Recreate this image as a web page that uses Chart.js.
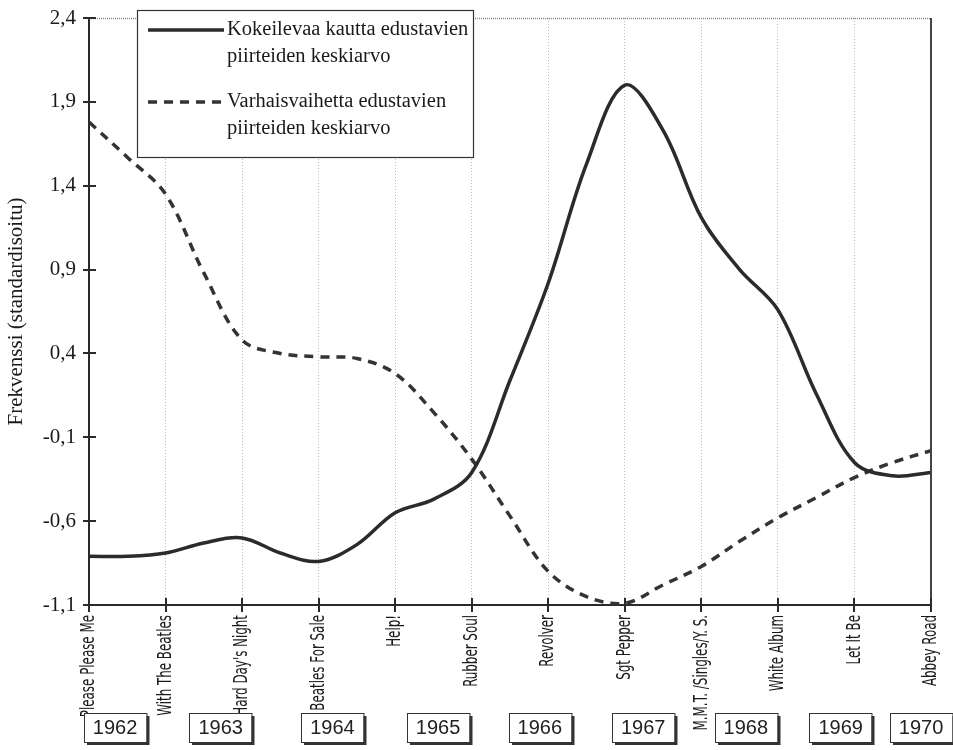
<!DOCTYPE html>
<html>
<head>
<meta charset="utf-8">
<script src="https://cdn.jsdelivr.net/npm/chart.js@4/dist/chart.umd.min.js"></script>
<style>
  html, body { margin: 0; background: #fff; }
  #wrap { width: 953px; height: 750px; }
</style>
</head>
<body>
<div id="wrap"><canvas id="chart"></canvas></div>
<script>
// albums on the x axis (one tick each)
const albums = ["Please Please Me", "With The Beatles", "A Hard Day's Night", "Beatles For Sale",
  "Help!", "Rubber Soul", "Revolver", "Sgt Pepper", "M.M.T. /Singles/Y. S.",
  "White Album", "Let It Be", "Abbey Road"];
const xTicks = [0, 1, 2, 3, 4, 5, 6, 7, 8, 9, 10, 11];
const yTicks = [-1.1, -0.6, -0.1, 0.4, 0.9, 1.4, 1.9, 2.4];

// points, at album and half-album steps
const xAt = [0, 0.5, 1, 1.5, 2, 2.5, 3, 3.5, 4, 4.5, 5, 5.5, 6, 6.5, 7, 7.5, 8, 8.5, 9, 9.5, 10, 10.5, 11];
const experimental = [-0.81, -0.81, -0.79, -0.73, -0.70, -0.79, -0.84, -0.74, -0.55, -0.47, -0.31, 0.24,
  0.82, 1.53, 2.00, 1.73, 1.21, 0.90, 0.66, 0.16, -0.25, -0.33, -0.31];
const earlyPhase = [1.78, 1.57, 1.35, 0.88, 0.48, 0.40, 0.38, 0.37, 0.28, 0.05, -0.23, -0.57,
  -0.90, -1.05, -1.09, -0.98, -0.87, -0.72, -0.58, -0.46, -0.34, -0.25, -0.18];

const seriesNames = [
  ["Kokeilevaa kautta edustavien", "piirteiden keskiarvo"],
  ["Varhaisvaihetta edustavien", "piirteiden keskiarvo"]
];

// year boxes under the album names
const years = ["1962", "1963", "1964", "1965", "1966", "1967", "1968", "1969", "1970"];
const yearBoxAt = [0.34, 1.72, 3.18, 4.56, 5.89, 7.24, 8.58, 9.82, 10.87];

const serif = "'Liberation Serif', 'Times New Roman', serif";
const ink = "#2a2a2a";

function toPoints(vals) {
  return vals.map((v, i) => ({ x: xAt[i], y: v }));
}

// axis crosses, frame, album names, legend and year boxes
const extras = {
  id: "extras",
  afterDraw(chart) {
    const { ctx, chartArea: a, scales: { x, y } } = chart;
    ctx.save();

    // top dotted line and right frame
    ctx.strokeStyle = "#8a8a8a";
    ctx.lineWidth = 1.5;
    ctx.setLineDash([1, 1]);
    ctx.beginPath();
    ctx.moveTo(a.left, a.top + 0.5);
    ctx.lineTo(a.right, a.top + 0.5);
    ctx.stroke();
    ctx.setLineDash([]);
    ctx.strokeStyle = "#444";
    ctx.lineWidth = 2;
    ctx.beginPath();
    ctx.moveTo(a.right, a.top);
    ctx.lineTo(a.right, a.bottom);
    ctx.stroke();

    // tick crosses
    ctx.strokeStyle = ink;
    ctx.lineWidth = 2;
    ctx.beginPath();
    yTicks.forEach(v => {
      const py = Math.round(y.getPixelForValue(v));
      ctx.moveTo(a.left - 6, py);
      ctx.lineTo(a.left + 7, py);
    });
    xTicks.forEach(v => {
      const px = Math.round(x.getPixelForValue(v));
      ctx.moveTo(px, a.bottom - 7);
      ctx.lineTo(px, a.bottom + 7);
    });
    ctx.stroke();

    // album names, narrow condensed type set vertically
    ctx.fillStyle = "#1a1a1a";
    ctx.font = "20px 'DejaVu Sans Condensed', 'DejaVu Sans', sans-serif";
    ctx.textAlign = "right";
    ctx.textBaseline = "middle";
    xTicks.forEach(v => {
      ctx.save();
      ctx.translate(x.getPixelForValue(v), a.bottom + 10);
      ctx.rotate(-Math.PI / 2);
      ctx.scale(0.66, 1);
      ctx.fillText(albums[v], 0, 0);
      ctx.restore();
    });

    // legend box
    const lx = a.left + 48, ly = a.top - 8, lw = 336, lh = 147;
    ctx.fillStyle = "#fff";
    ctx.fillRect(lx, ly, lw, lh);
    ctx.strokeStyle = "#333";
    ctx.lineWidth = 1.2;
    ctx.strokeRect(lx + 0.5, ly + 0.5, lw, lh);
    ctx.font = "20.5px " + serif;
    ctx.textBaseline = "middle";
    ctx.textAlign = "left";
    chart.data.datasets.forEach((ds, i) => {
      const top = ly + 20 + i * 72;
      ctx.strokeStyle = ds.borderColor;
      ctx.lineWidth = ds.borderWidth;
      ctx.setLineDash(ds.borderDash || []);
      ctx.beginPath();
      ctx.moveTo(lx + 11, top);
      ctx.lineTo(lx + 87, top);
      ctx.stroke();
      ctx.setLineDash([]);
      ctx.fillStyle = "#1a1a1a";
      seriesNames[i].forEach((line, j) => ctx.fillText(line, lx + 90, top + j * 27));
    });

    // year boxes
    ctx.font = "20px 'Liberation Sans', Arial, sans-serif";
    ctx.textAlign = "center";
    years.forEach((yr, i) => {
      const cx = x.getPixelForValue(yearBoxAt[i]);
      const w = ctx.measureText(yr).width + 18, h = 29, top = 713;
      const left = Math.round(cx - w / 2);
      ctx.fillStyle = "#333";
      ctx.fillRect(left + 3, top + 3, w, h);
      ctx.fillStyle = "#fff";
      ctx.fillRect(left, top, w, h);
      ctx.strokeStyle = "#333";
      ctx.lineWidth = 1;
      ctx.strokeRect(left + 0.5, top + 0.5, w, h);
      ctx.fillStyle = "#222";
      ctx.fillText(yr, cx, top + h / 2 + 1);
    });

    ctx.restore();
  }
};

new Chart(document.getElementById("chart"), {
  type: "line",
  data: {
    datasets: [
      {
        label: seriesNames[0].join(" "),
        data: toPoints(experimental),
        borderColor: "#2b2b2b",
        borderWidth: 3.5,
        tension: 0.35,
        pointRadius: 0,
        fill: false
      },
      {
        label: seriesNames[1].join(" "),
        data: toPoints(earlyPhase),
        borderColor: "#333",
        borderWidth: 3.5,
        borderDash: [9, 7],
        tension: 0.35,
        pointRadius: 0,
        fill: false
      }
    ]
  },
  options: {
    responsive: true,
    maintainAspectRatio: false,
    animation: false,
    events: [],
    layout: { padding: { top: 18, right: 22, left: 0, bottom: 0 } },
    plugins: {
      legend: { display: false },
      tooltip: { enabled: false }
    },
    scales: {
      x: {
        type: "linear",
        min: 0,
        max: 11,
        afterBuildTicks: s => { s.ticks = xTicks.map(v => ({ value: v })); },
        afterFit: s => { s.height = 145; },
        grid: {
          drawTicks: false,
          lineWidth: 1,
          color: c => (c.tick && (c.tick.value === 0 || c.tick.value === 11)) ? "rgba(0,0,0,0)" : "#b8b8b8"
        },
        border: { display: true, color: ink, width: 2, dash: [1, 2] },
        ticks: { display: false }
      },
      y: {
        min: -1.1,
        max: 2.4,
        afterBuildTicks: s => { s.ticks = yTicks.map(v => ({ value: v })); },
        afterFit: s => { s.width = 89; },
        grid: { display: false },
        border: { display: true, color: ink, width: 2 },
        ticks: {
          padding: 5,
          color: "#1a1a1a",
          font: { family: serif, size: 21 },
          callback: v => v.toFixed(1).replace(".", ",")
        },
        title: {
          display: true,
          text: "Frekvenssi (standardisoitu)",
          color: "#1a1a1a",
          font: { family: serif, size: 21 },
          padding: { top: 4, bottom: 0 }
        }
      }
    }
  },
  plugins: [extras]
});
</script>
</body>
</html>
